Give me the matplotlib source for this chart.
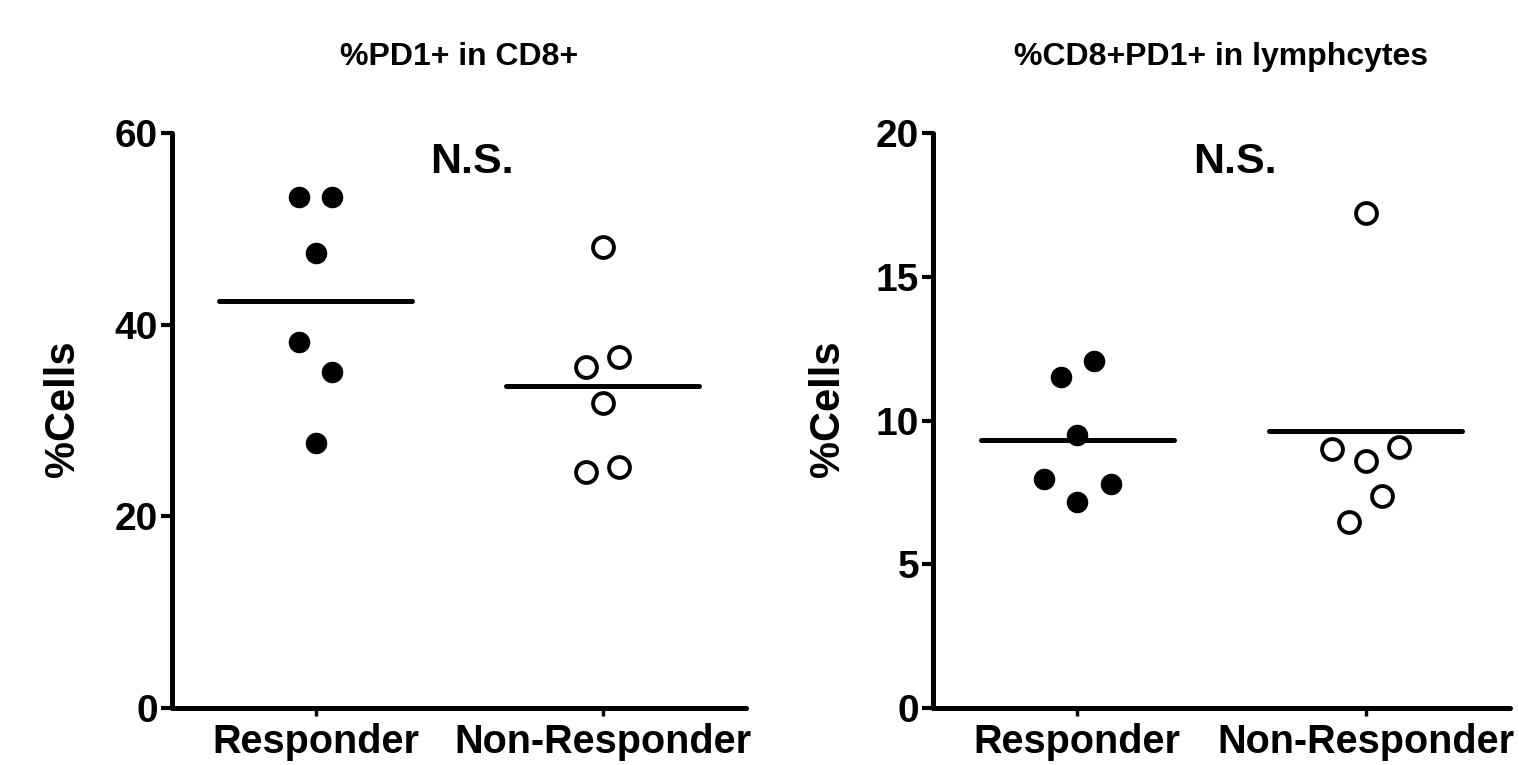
import numpy as np
import matplotlib
matplotlib.use("Agg")
import matplotlib.pyplot as plt

plt.rcParams['font.family'] = ['Liberation Sans', 'DejaVu Sans']
plt.rcParams['font.weight'] = 'bold'

categories = ["Responder", "Non-Responder"]

# Panel 1: %PD1+ in CD8+
p1_title = "%PD1+ in CD8+"
p1_responder = [53.3, 53.3, 47.5, 38.2, 35.1, 27.7]
p1_responder_slot = [-1, 1, 0, -1, 1, 0]
p1_nonresponder = [48.1, 36.6, 35.6, 31.8, 25.2, 24.6]
p1_nonresponder_slot = [0, 1, -1, 0, 1, -1]
p1_yticks = [0, 20, 40, 60]

# Panel 2: %CD8+PD1+ in lymphcytes
p2_title = "%CD8+PD1+ in lymphcytes"
p2_responder = [12.07, 11.51, 9.50, 7.97, 7.79, 7.17]
p2_responder_slot = [1, -1, 0, -2, 2, 0]
p2_nonresponder = [17.22, 9.01, 8.59, 9.08, 7.37, 6.47]
p2_nonresponder_slot = [0, -2, 0, 2, 1, -1]
p2_yticks = [0, 5, 10, 15, 20]

ylabel = "%Cells"
sig_text = "N.S."

fig = plt.figure(figsize=(15.19, 7.65), dpi=100)
ax1 = fig.add_axes([172/1519, 1-708/765, (746-172)/1519, (708-133)/765])
ax2 = fig.add_axes([933/1519, 1-708/765, (1510-933)/1519, (708-133)/765])

SLOT = 0.058
LW = 3.6

def panel(ax, title, resp, resp_slot, nonresp, nonresp_slot, yticks, ylab_x):
    xr = 0 + SLOT*np.array(resp_slot)
    xn = 1 + SLOT*np.array(nonresp_slot)
    ax.plot(xr, resp, 'o', color='black', markersize=15.5, markeredgewidth=0, zorder=3, clip_on=False)
    ax.plot(xn, nonresp, 'o', markerfacecolor='white', markeredgecolor='black',
            markersize=15, markeredgewidth=2.8, zorder=3, clip_on=False)
    for xc, vals in ((0, resp), (1, nonresp)):
        m = np.mean(vals)
        ax.plot([xc-0.335, xc+0.335], [m, m], color='black', lw=LW, solid_capstyle='round', zorder=2)
    ax.set_xlim(-0.5, 1.5)
    ax.set_ylim(yticks[0], yticks[-1])
    ax.set_yticks(yticks)
    ax.set_xticks([0, 1])
    ax.set_xticklabels(categories, fontsize=28.5, fontweight='bold')
    ax.set_yticklabels([str(t) for t in yticks], fontsize=28, fontweight='bold')
    for s in ('top', 'right'):
        ax.spines[s].set_visible(False)
    for s in ('left', 'bottom'):
        ax.spines[s].set_linewidth(LW)
        ax.spines[s].set_capstyle('round')
    ax.tick_params(axis='y', length=8, width=3, pad=2, direction='out')
    ax.tick_params(axis='x', length=6, width=2.5, pad=5, direction='out')
    ax.set_ylabel(ylabel, fontsize=30, fontweight='bold')
    ax.yaxis.set_label_coords(ylab_x, 0.52)
    ax.text(0.5, 1.132, title, transform=ax.transAxes, ha='center', va='center',
            fontsize=23, fontweight='bold')
    ax.text(0.523, 0.95, sig_text, transform=ax.transAxes, ha='center', va='center',
            fontsize=31, fontweight='bold')

panel(ax1, p1_title, p1_responder, p1_responder_slot, p1_nonresponder, p1_nonresponder_slot, p1_yticks, -0.155)
panel(ax2, p2_title, p2_responder, p2_responder_slot, p2_nonresponder, p2_nonresponder_slot, p2_yticks, -0.147)

fig.savefig("out.png", dpi=100, facecolor='white')
